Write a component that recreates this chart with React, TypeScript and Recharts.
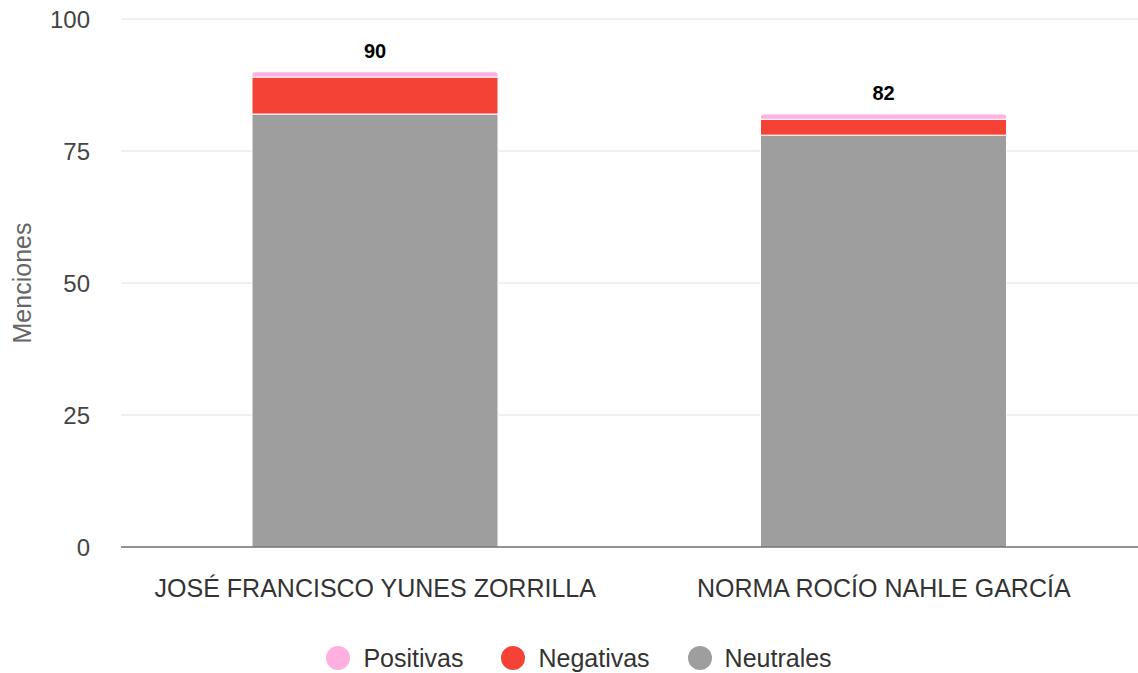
import React from 'react';
import { BarChart, Bar, XAxis, YAxis, CartesianGrid, Legend, LabelList } from 'recharts';

const categories = ['JOSÉ FRANCISCO YUNES ZORRILLA', 'NORMA ROCÍO NAHLE GARCÍA'];
const neutrales = [82, 78];
const negativas = [7, 3];
const positivas = [1, 1];
const yTicks = [0, 25, 50, 75, 100];

const data = categories.map((name, i) => ({
  name,
  neutrales: neutrales[i],
  negativas: negativas[i],
  positivas: positivas[i],
  total: neutrales[i] + negativas[i] + positivas[i],
}));

const FONT = '"Liberation Sans", Arial, sans-serif';
const legendOrder = ['Positivas', 'Negativas', 'Neutrales'];

const renderLegend = (props: any) => {
  const payload = [...(props.payload || [])].sort(
    (a: any, b: any) => legendOrder.indexOf(a.value) - legendOrder.indexOf(b.value)
  );
  return (
    <div style={{ display: 'flex', justifyContent: 'center', alignItems: 'center', height: 30, fontFamily: FONT, paddingLeft: 20 }}>
      {payload.map((p: any) => (
        <div key={p.value} style={{ display: 'flex', alignItems: 'center', margin: '0 19px' }}>
          <span style={{ width: 24, height: 24, borderRadius: 12, background: p.color, display: 'inline-block', marginRight: 13 }} />
          <span style={{ fontSize: 25, color: '#333' }}>{p.value}</span>
        </div>
      ))}
    </div>
  );
};

export default function App() {
  return (
    <div style={{ position: 'absolute', left: 0, top: 0, width: 1138, height: 673, background: '#fff' }}>
      <BarChart
        width={1138}
        height={673}
        data={data}
        margin={{ top: 19, right: 0, bottom: 0, left: 0 }}
        barSize={246}
      >
        <CartesianGrid vertical={false} stroke="#e0e0e0" />
        <XAxis
          dataKey="name"
          height={96}
          tickLine={false}
          axisLine={{ stroke: '#333' }}
          tickMargin={26}
          tick={{ fontSize: 25, fill: '#333', fontFamily: FONT }}
          interval={0}
        />
        <YAxis
          width={121}
          domain={[0, 100]}
          ticks={yTicks}
          tickLine={false}
          axisLine={false}
          tickMargin={25}
          tick={{ fontSize: 24, fill: '#444', fontFamily: FONT }}
          label={{
            value: 'Menciones',
            angle: -90,
            position: 'insideLeft',
            offset: 22,
            style: { textAnchor: 'middle', fontSize: 25, fill: '#666', fontFamily: FONT },
          }}
        />
        <Legend verticalAlign="bottom" height={30} content={renderLegend} />
        <Bar dataKey="neutrales" name="Neutrales" stackId="a" fill="#9e9e9e" stroke="#fff" strokeWidth={1} isAnimationActive={false} />
        <Bar dataKey="negativas" name="Negativas" stackId="a" fill="#f44336" stroke="#fff" strokeWidth={1} isAnimationActive={false} />
        <Bar dataKey="positivas" name="Positivas" stackId="a" fill="#ffb0e0" stroke="#fff" strokeWidth={1} radius={[3, 3, 0, 0]} isAnimationActive={false}>
          <LabelList
            dataKey="total"
            position="top"
            offset={14}
            style={{ fontSize: 20, fontWeight: 'bold', fill: '#000', fontFamily: FONT }}
          />
        </Bar>
      </BarChart>
    </div>
  );
}
